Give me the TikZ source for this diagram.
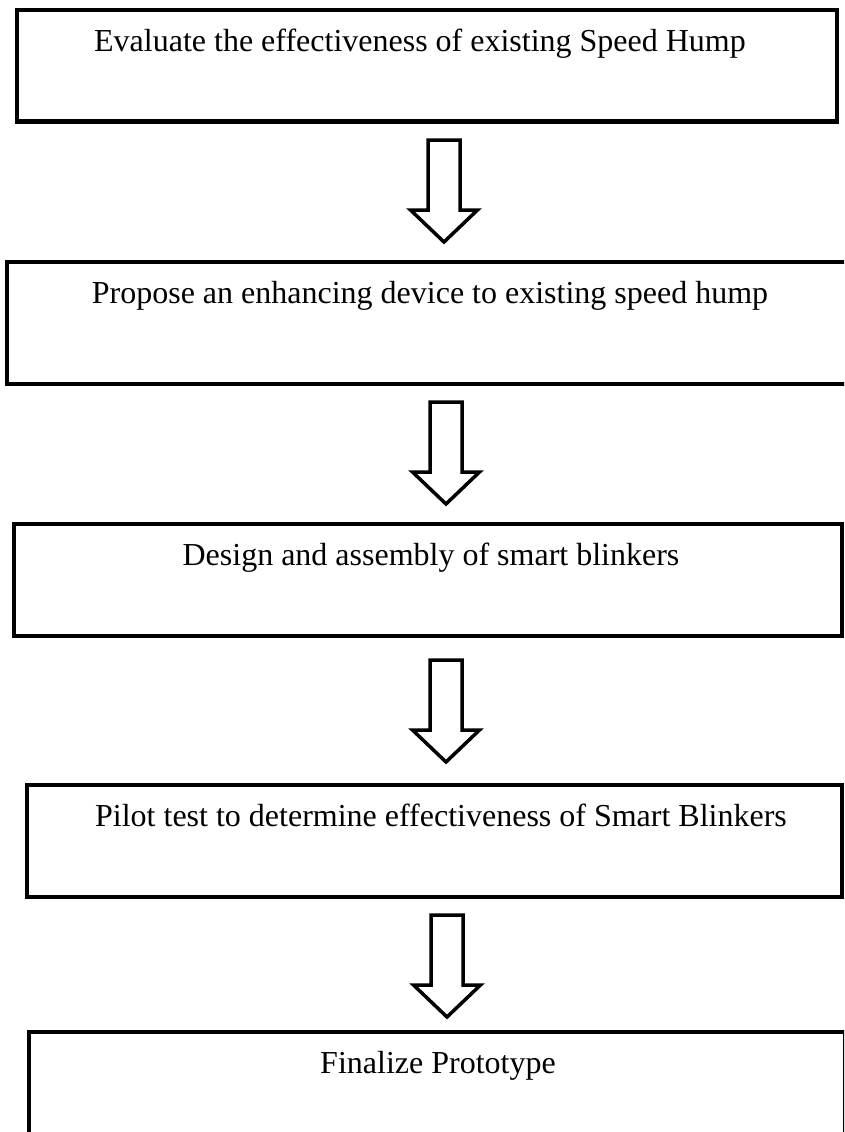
\documentclass[tikz,border=0pt]{standalone}
\usepackage{fontspec}
\setmainfont{Liberation Serif}
\tikzset{
  stepbox/.style={draw=black, line width=4.6pt, rectangle, inner sep=0pt, outer sep=0pt},
  steptext/.style={anchor=base, inner sep=0pt, font=\fontsize{32}{38}\selectfont},
  blockarrow/.pic={
    \draw[line width=3.5pt, line join=miter]
      (-16,0) -- (16,0) -- (16,70) -- (33.5,70) -- (0,102) -- (-33.5,70) -- (-16,70) -- cycle;
  }
}
\begin{document}
\begin{tikzpicture}[x=1pt,y=-1pt]
\useasboundingbox (0,0) rectangle (844,1132);
\clip (0,0) rectangle (844,1132);
% boxes
\node[stepbox, minimum width=820pt, minimum height=111.5pt] (b1) at (427,65.75) {};
\node[stepbox, minimum width=853pt, minimum height=122pt] (b2) at (433.5,323) {};
\node[stepbox, minimum width=828pt, minimum height=112pt] (b3) at (428,580) {};
\node[stepbox, minimum width=815pt, minimum height=112pt] (b4) at (434.5,841) {};
\node[stepbox, minimum width=816pt, minimum height=128pt] (b5) at (437,1096) {};
% texts
\node[steptext] (t1) at (420,52) {Evaluate the effectiveness of existing Speed Hump};
\node[steptext] (t2) at (430,303) {Propose an enhancing device to existing speed hump};
\node[steptext] (t3) at (431,565) {Design and assembly of smart blinkers};
\node[steptext] (t4) at (441,826) {Pilot test to determine effectiveness of Smart Blinkers};
\node[steptext] (t5) at (438,1073) {Finalize Prototype};
% arrows
\pic (a1) at (444,140) {blockarrow};
\pic (a2) at (446,402) {blockarrow};
\pic (a3) at (446,660) {blockarrow};
\pic (a4) at (447,915) {blockarrow};
\end{tikzpicture}
\end{document}
